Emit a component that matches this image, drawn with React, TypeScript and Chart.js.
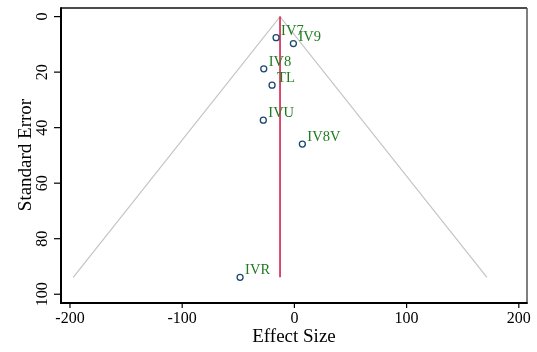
import React, { useEffect, useRef } from "react";
import Chart from "chart.js/auto";

const studyLabels = ["IV7", "IV9", "IV8", "TL", "IVU", "IV8V", "IVR"];
const effectSizes = [-16.3, -0.9, -27.3, -19.9, -27.7, 7.1, -48.4];
const standardErrors = [7.6, 9.7, 18.8, 24.7, 37.3, 45.9, 93.9];
const pooledEffect = -12.8;
const maxStandardError = 93.9;
const funnelLeftEnd = -197.1;
const funnelRightEnd = 171.6;
const xTicks = [-200, -100, 0, 100, 200];
const yTicks = [0, 20, 40, 60, 80, 100];
const xTitle = "Effect Size";
const yTitle = "Standard Error";

const SERIF = '"Liberation Serif", "Times New Roman", serif';
const NAVY = "#1a476f";
const GREEN = "#1e7b1e";
const RED = "#d81e4a";
const GRAY = "#c4c4c4";

const axesPlugin = {
  id: "stataAxes",
  afterDraw(chart: any) {
    const ctx = chart.ctx as CanvasRenderingContext2D;
    const area = chart.chartArea;
    const xs = chart.scales.x;
    const ys = chart.scales.y;
    ctx.save();

    // point labels
    ctx.font = `14.5px ${SERIF}`;
    ctx.fillStyle = GREEN;
    ctx.textAlign = "left";
    ctx.textBaseline = "alphabetic";
    studyLabels.forEach((lab, i) => {
      const px = xs.getPixelForValue(effectSizes[i]);
      const py = ys.getPixelForValue(standardErrors[i]);
      ctx.fillText(lab, px + 5, py - 3);
    });

    // frame
    ctx.lineCap = "butt";
    ctx.strokeStyle = "#111";
    ctx.lineWidth = 1.5;
    ctx.beginPath();
    ctx.moveTo(area.left, area.top);
    ctx.lineTo(area.right, area.top);
    ctx.stroke();
    ctx.strokeStyle = "#555";
    ctx.beginPath();
    ctx.moveTo(area.right, area.top);
    ctx.lineTo(area.right, area.bottom);
    ctx.stroke();
    ctx.strokeStyle = "#000";
    ctx.lineWidth = 2;
    ctx.beginPath();
    ctx.moveTo(area.left, area.top - 0.75);
    ctx.lineTo(area.left, area.bottom + 1);
    ctx.lineTo(area.right + 0.75, area.bottom + 1);
    ctx.stroke();

    // ticks
    ctx.lineWidth = 1.2;
    ctx.strokeStyle = "#000";
    ctx.fillStyle = "#000";
    ctx.font = `16px ${SERIF}`;
    xTicks.forEach((t) => {
      const px = xs.getPixelForValue(t);
      ctx.beginPath();
      ctx.moveTo(px, area.bottom + 1);
      ctx.lineTo(px, area.bottom + 6);
      ctx.stroke();
      ctx.textAlign = "center";
      ctx.textBaseline = "alphabetic";
      ctx.fillText(String(t), px, 323);
    });
    yTicks.forEach((t) => {
      const py = ys.getPixelForValue(t);
      ctx.beginPath();
      ctx.moveTo(area.left - 1, py);
      ctx.lineTo(area.left - 7, py);
      ctx.stroke();
      ctx.save();
      ctx.translate(46.5, py);
      ctx.rotate(-Math.PI / 2);
      ctx.textAlign = "center";
      ctx.textBaseline = "alphabetic";
      ctx.fillText(String(t), 0, 0);
      ctx.restore();
    });

    // titles
    ctx.font = `19px ${SERIF}`;
    ctx.textAlign = "center";
    ctx.textBaseline = "alphabetic";
    ctx.fillText(xTitle, (area.left + area.right) / 2, 341.5);
    ctx.save();
    ctx.translate(30.7, (area.top + area.bottom) / 2);
    ctx.rotate(-Math.PI / 2);
    ctx.fillText(yTitle, 0, 0);
    ctx.restore();

    ctx.restore();
  },
};

export default function App() {
  const canvasRef = useRef<HTMLCanvasElement | null>(null);

  useEffect(() => {
    const canvas = canvasRef.current;
    if (!canvas) return;
    const points = effectSizes.map((x, i) => ({ x, y: standardErrors[i] }));
    const chart = new Chart(canvas, {
      type: "scatter",
      data: {
        datasets: [
          {
            type: "line",
            data: [
              { x: funnelLeftEnd, y: maxStandardError },
              { x: pooledEffect, y: 0 },
              { x: funnelRightEnd, y: maxStandardError },
            ],
            borderColor: GRAY,
            borderWidth: 1.2,
            pointRadius: 0,
            fill: false,
            tension: 0,
            order: 3,
          } as any,
          {
            type: "line",
            data: [
              { x: pooledEffect, y: 0 },
              { x: pooledEffect, y: maxStandardError },
            ],
            borderColor: RED,
            borderWidth: 1.6,
            pointRadius: 0,
            fill: false,
            order: 2,
          } as any,
          {
            data: points,
            pointStyle: "circle",
            pointRadius: 3,
            pointBorderWidth: 1.3,
            borderColor: NAVY,
            backgroundColor: "rgba(0,0,0,0)",
            order: 1,
          } as any,
        ],
      },
      options: {
        responsive: false,
        animation: false,
        devicePixelRatio: 1,
        layout: { padding: { top: 8, right: 10, left: 0, bottom: 0 } },
        plugins: { legend: { display: false }, tooltip: { enabled: false } },
        scales: {
          x: {
            type: "linear",
            min: -208,
            max: 207.3,
            grid: { display: false },
            border: { display: false },
            ticks: { display: false },
            afterFit: (s: any) => {
              s.height = 50;
            },
          },
          y: {
            type: "linear",
            reverse: true,
            min: -3.1,
            max: 102.8,
            grid: { display: false },
            border: { display: false },
            ticks: { display: false },
            afterFit: (s: any) => {
              s.width = 61;
            },
          },
        },
      } as any,
      plugins: [axesPlugin],
    });
    return () => chart.destroy();
  }, []);

  return (
    <div style={{ position: "absolute", left: 0, top: 0, width: 537, height: 352, background: "#fff" }}>
      <canvas ref={canvasRef} width={537} height={352} />
    </div>
  );
}
